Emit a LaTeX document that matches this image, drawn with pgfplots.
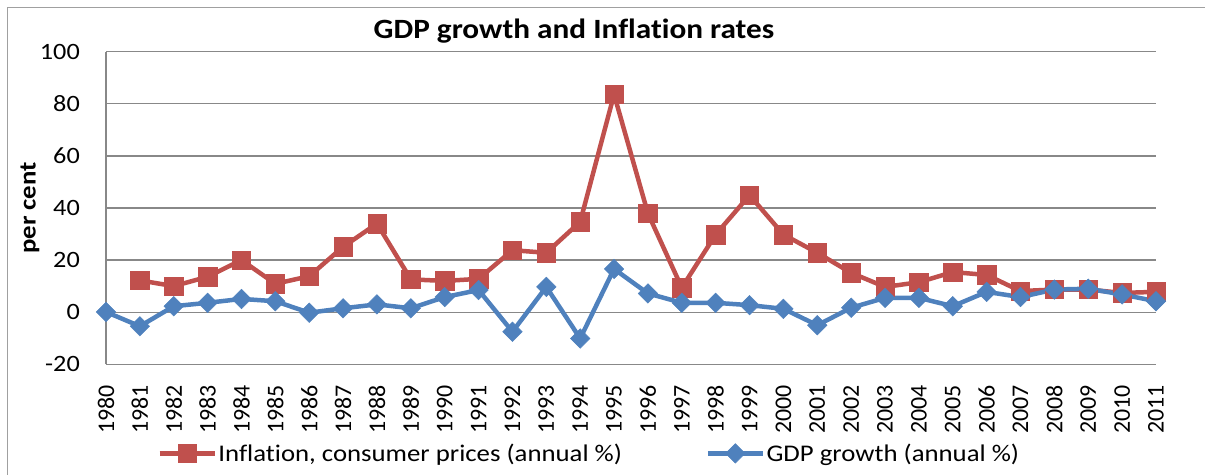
\documentclass[border=0pt]{standalone}
\usepackage{pgfplots}
\pgfplotsset{compat=1.18}
\usepackage{pgfplotstable}
\usepackage{fontspec}
\setmainfont{Carlito}
\newfontfamily\widefont[FakeStretch=1.12, Ligatures=NoCommon]{Carlito}
\definecolor{infl}{HTML}{C0504D}
\definecolor{gdp}{HTML}{4F81BD}
\definecolor{gridgray}{HTML}{888888}

\pgfplotstableread{
year infl
1981 12.2
1982 10.0
1983 13.6
1984 20.0
1985 10.9
1986 13.8
1987 25.1
1988 34.0
1989 12.6
1990 12.0
1991 12.8
1992 23.8
1993 22.8
1994 34.7
1995 83.6
1996 37.9
1997 9.4
1998 29.8
1999 44.9
2000 29.8
2001 22.8
2002 15.1
2003 9.7
2004 11.5
2005 15.4
2006 14.3
2007 8.1
2008 8.7
2009 8.7
2010 7.4
2011 7.8
}\infltable

\pgfplotstableread{
year gdp
1980 0.1
1981 -5.4
1982 2.3
1983 3.6
1984 5.1
1985 4.2
1986 -0.2
1987 1.5
1988 3.0
1989 1.5
1990 5.8
1991 8.5
1992 -7.5
1993 9.7
1994 -10.1
1995 16.6
1996 7.2
1997 3.6
1998 3.6
1999 2.7
2000 1.3
2001 -5.0
2002 1.7
2003 5.5
2004 5.5
2005 2.3
2006 7.8
2007 5.8
2008 8.7
2009 9.0
2010 6.8
2011 4.2
}\gdptable

\begin{document}
\begin{tikzpicture}[x=1bp,y=1bp]
\useasboundingbox (0,0) rectangle (1205,475);
\draw[gridgray!80, line width=1.2bp] (7.5,-5) -- (7.5,467.5) -- (1215,467.5);
\begin{axis}[
  at={(106bp,110.7bp)}, anchor=south west,
  scale only axis, width=1050bp, height=312.6bp,
  xmin=1980, xmax=2011, ymin=-20, ymax=100,
  clip=false,
  axis lines*=left,
  axis line style={-, gridgray, line width=1.3bp},
  ymajorgrids, grid style={gridgray, line width=1.3bp},
  major tick length=0pt,
  xtick={1980,1981,...,2011},
  ytick={-20,0,20,40,60,80,100},
  yticklabels={-20,0,20,40,60,80,100},
  xticklabel style={yshift=-21bp, rotate=90, anchor=east, inner sep=0pt,
    font=\fontsize{24}{28}\selectfont,
    /pgf/number format/1000 sep={}, /pgf/number format/assume math mode=true},
  yticklabel style={anchor=east, inner sep=0pt, xshift=-26bp,
    font=\widefont\fontsize{23.5}{28}\selectfont},
  every axis y label/.style={at={(axis description cs:-0.0724,0.5)}, rotate=90, anchor=center,
    font=\widefont\bfseries\fontsize{24}{28}\selectfont},
  ylabel={per cent},
  title={GDP growth and Inflation rates},
  title style={at={(axis description cs:0.4457,1)}, anchor=base, yshift=7bp,
    font=\widefont\bfseries\fontsize{28}{32}\selectfont},
  legend columns=2,
  legend style={at={(axis description cs:0.46,-0.285)}, anchor=center, draw=none, fill=none,
    font=\widefont\fontsize{24}{28}\selectfont,
    nodes={inner sep=1.5bp},
    /tikz/every even column/.append style={column sep=82bp}},
  legend cell align=left,
  legend image code/.code={\draw[mark repeat=2,mark phase=2,#1] plot coordinates {(0bp,0bp) (27.5bp,0bp) (55bp,0bp)};},
]
\addplot[infl, line width=4.5bp, mark=square*, mark size=9.2bp, mark options={solid, line width=0.5bp}]
  table[x=year, y=infl] {\infltable};
\addlegendentry{Inflation, consumer prices (annual \%)}
\addplot[gdp, line width=4.5bp, mark=square*, mark size=6.9bp, mark options={solid, rotate=45, line width=0.5bp}]
  table[x=year, y=gdp] {\gdptable};
\addlegendentry{GDP growth (annual \%)}
\end{axis}
\end{tikzpicture}
\end{document}
